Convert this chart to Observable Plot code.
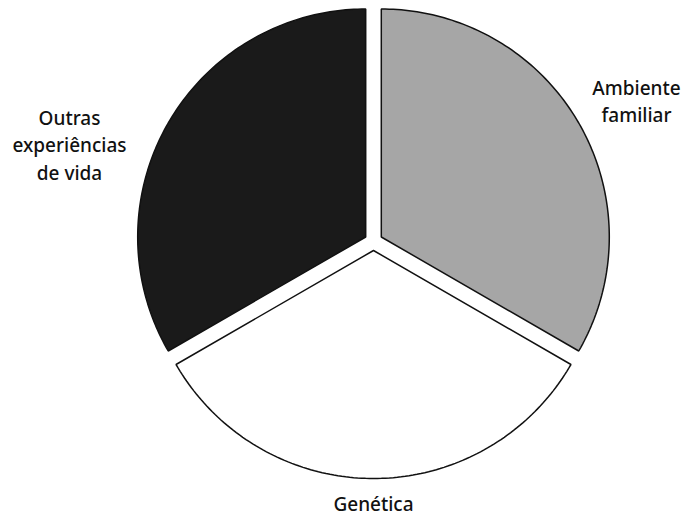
<!DOCTYPE html>
<html>
<head>
<meta charset="utf-8">
<script src="https://cdn.jsdelivr.net/npm/d3@7"></script>
<script src="https://cdn.jsdelivr.net/npm/@observablehq/plot@0.6"></script>
<style>
  html, body { margin: 0; padding: 0; background: #fff; }
</style>
</head>
<body>
<div id="chart"></div>
<script>
// Data
const categories = ["Ambiente familiar", "Genética", "Outras experiências de vida"];
const values = [1, 1, 1];
const colors = ["#a6a6a6", "#ffffff", "#1a1a1a"];
const labels = ["Ambiente\nfamiliar", "Genética", "Outras\nexperiências\nde vida"];

const W = 687, H = 517;
const cx = 373, cy = 241;   // pie centre in pixels
const R = 228;              // radius
const explode = 9;          // slice offset

const pie = d3.pie().sort(null).startAngle(0).endAngle(2 * Math.PI)(values);

// Build polygon outlines of slices in data units (pixel-sized, origin at centre)
const slices = [];
pie.forEach((p, i) => {
  const mid = (p.startAngle + p.endAngle) / 2;
  const ox = explode * Math.sin(mid), oy = explode * Math.cos(mid);
  const pts = [];
  pts.push({cat: categories[i], x: ox, y: oy});
  const n = 120;
  for (let k = 0; k <= n; k++) {
    const a = p.startAngle + (p.endAngle - p.startAngle) * k / n;
    pts.push({cat: categories[i], x: ox + R * Math.sin(a), y: oy + R * Math.cos(a)});
  }
  pts.push({cat: categories[i], x: ox, y: oy});
  slices.push(pts);
});

const labelData = [
  {text: labels[0], x: 263, y: 142},
  {text: labels[1], x: 0, y: -261},
  {text: labels[2], x: -304, y: 98}
];

const chart = Plot.plot({
  width: W,
  height: H,
  margin: 0,
  x: {domain: [-cx, W - cx], axis: null},
  y: {domain: [-(H - cy), cy], axis: null},
  marks: [
    ...slices.map((pts, i) => Plot.line(pts, {
      x: "x", y: "y",
      fill: colors[i],
      stroke: "#111",
      strokeWidth: 1.5,
      strokeLinejoin: "miter",
      curve: "linear"
    })),
    Plot.text(labelData, {
      x: "x", y: "y", text: "text",
      fontSize: 19,
      lineHeight: 1.45,
      fill: "#111",
      fontWeight: 500,
      fontFamily: "'Noto Sans', sans-serif",
      textAnchor: "middle",
      lineAnchor: "middle"
    })
  ]
});
document.getElementById("chart").appendChild(chart);
</script>
</body>
</html>
